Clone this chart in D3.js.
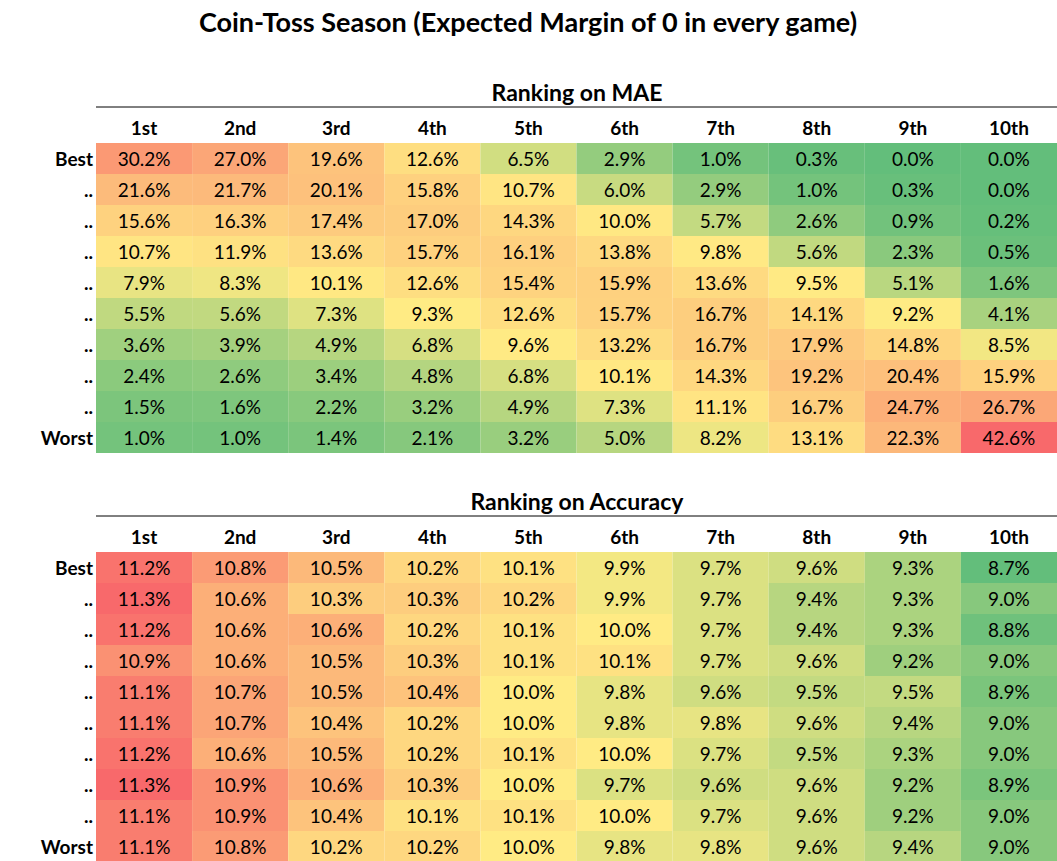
<!DOCTYPE html>
<html>
  <head>
    <meta charset="utf-8">
    <script src="https://cdn.jsdelivr.net/npm/d3@7"></script>
    <style>body{margin:0;background:#fff;} text{font-family:Lato,"Open Sans",sans-serif;}</style>
  </head>
  <body>
    <script type="text/javascript">
      var columns = ["1st","2nd","3rd","4th","5th","6th","7th","8th","9th","10th"];
      var rowLabels = ["Best","..","..","..","..","..","..","..","..","Worst"];

      var maeValues = [
        [30.2,27.0,19.6,12.6,6.5,2.9,1.0,0.3,0.0,0.0],
        [21.6,21.7,20.1,15.8,10.7,6.0,2.9,1.0,0.3,0.0],
        [15.6,16.3,17.4,17.0,14.3,10.0,5.7,2.6,0.9,0.2],
        [10.7,11.9,13.6,15.7,16.1,13.8,9.8,5.6,2.3,0.5],
        [7.9,8.3,10.1,12.6,15.4,15.9,13.6,9.5,5.1,1.6],
        [5.5,5.6,7.3,9.3,12.6,15.7,16.7,14.1,9.2,4.1],
        [3.6,3.9,4.9,6.8,9.6,13.2,16.7,17.9,14.8,8.5],
        [2.4,2.6,3.4,4.8,6.8,10.1,14.3,19.2,20.4,15.9],
        [1.5,1.6,2.2,3.2,4.9,7.3,11.1,16.7,24.7,26.7],
        [1.0,1.0,1.4,2.1,3.2,5.0,8.2,13.1,22.3,42.6]
      ];
      var accValues = [
        [11.2,10.8,10.5,10.2,10.1,9.9,9.7,9.6,9.3,8.7],
        [11.3,10.6,10.3,10.3,10.2,9.9,9.7,9.4,9.3,9.0],
        [11.2,10.6,10.6,10.2,10.1,10.0,9.7,9.4,9.3,8.8],
        [10.9,10.6,10.5,10.3,10.1,10.1,9.7,9.6,9.2,9.0],
        [11.1,10.7,10.5,10.4,10.0,9.8,9.6,9.5,9.5,8.9],
        [11.1,10.7,10.4,10.2,10.0,9.8,9.8,9.6,9.4,9.0],
        [11.2,10.6,10.5,10.2,10.1,10.0,9.7,9.5,9.3,9.0],
        [11.3,10.9,10.6,10.3,10.0,9.7,9.6,9.6,9.2,8.9],
        [11.1,10.9,10.4,10.1,10.1,10.0,9.7,9.6,9.2,9.0],
        [11.1,10.8,10.2,10.2,10.0,9.8,9.8,9.6,9.4,9.0]
      ];

      var w = 1057, h = 861;
      var svg = d3.select("body").append("svg").attr("width", w).attr("height", h);

      svg.append("text").attr("x", 528).attr("y", 32).attr("text-anchor","middle")
         .attr("font-size", 27).attr("font-weight","bold").text("Coin-Toss Season (Expected Margin of 0 in every game)");

      function drawTable(title, data, top) {
        var x = d3.scaleBand().domain(columns).range([96, 1057]);
        var y = d3.scaleBand().domain(d3.range(10)).range([top + 50, top + 360]);
        var flat = data.flat();
        var color = d3.scaleLinear()
          .domain([d3.min(flat), d3.median(flat), d3.max(flat)])
          .range(["#63BE7B","#FFEB84","#F8696B"]);

        var g = svg.append("g");
        g.append("text").attr("x", 577).attr("y", top + 8).attr("text-anchor","middle")
         .attr("font-size", 23).attr("font-weight","bold").text(title);
        g.append("line").attr("x1", 96).attr("x2", 1057).attr("y1", top + 14).attr("y2", top + 14)
         .attr("stroke","#000").attr("stroke-width",1);
        g.selectAll("text.col").data(columns).enter().append("text")
         .attr("x", function(d){ return x(d) + x.bandwidth()/2; })
         .attr("y", top + 42).attr("text-anchor","middle")
         .attr("font-size", 19).attr("font-weight","bold").text(function(d){ return d; });
        g.selectAll("text.row").data(rowLabels).enter().append("text")
         .attr("x", 93).attr("y", function(d,i){ return y(i) + y.bandwidth()/2 + 7; })
         .attr("text-anchor","end").attr("font-size", 19).attr("font-weight","bold")
         .text(function(d){ return d; });

        var cells = [];
        data.forEach(function(r, i){ r.forEach(function(v, j){ cells.push({r:i, c:columns[j], v:v}); }); });
        g.selectAll("rect.cell").data(cells).enter().append("rect")
         .attr("x", function(d){ return x(d.c); }).attr("y", function(d){ return y(d.r); })
         .attr("width", x.bandwidth()).attr("height", y.bandwidth())
         .attr("fill", function(d){ return color(d.v); });
        g.selectAll("text.cell").data(cells).enter().append("text")
         .attr("x", function(d){ return x(d.c) + x.bandwidth()/2; })
         .attr("y", function(d){ return y(d.r) + y.bandwidth()/2 + 7; })
         .attr("text-anchor","middle").attr("font-size", 19)
         .text(function(d){ return d.v.toFixed(1) + "%"; });
      }

      drawTable("Ranking on MAE", maeValues, 93);
      drawTable("Ranking on Accuracy", accValues, 502);
    </script>
  </body>
</html>
